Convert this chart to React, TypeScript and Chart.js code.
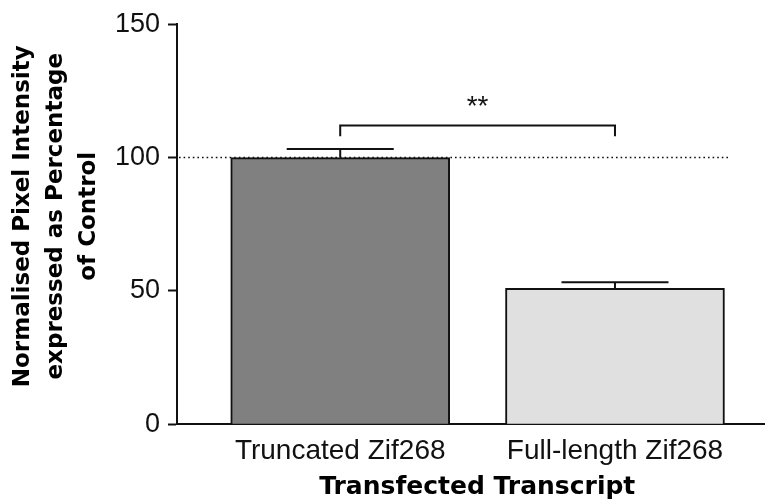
import { useEffect, useRef } from "react";
import { Chart, registerables } from "chart.js";

Chart.register(...registerables);

// Group labels and measured values (mean ± SEM, % of control)
const categories = ["Truncated Zif268", "Full-length Zif268"];
const meanValues = [100, 51];
const semValues = [3.2, 2.3];
const barColors = ["#808080", "#e0e0e0"];
const yTicks = [0, 50, 100, 150];
const yTitleLines = [
  "  Normalised Pixel Intensity",
  "  expressed as Percentage",
  "  of Control",
];
const xTitle = "\u2002Transfected Transcript";

// Control reference level and the significance bracket between the groups
const controlLevel = 100;
const controlLineEnd = 1.42; // x-units, just past the second bar
const bracketFrom = 0;
const bracketTo = 1;
const bracketLevel = 112;
const bracketLegLevel = 108;
const starLevel = 118.8;
const starLabel = "**";

const INK = "#111111";

const overlayPlugin = {
  id: "annotations",
  beforeDatasetsDraw(chart: any) {
    const { ctx, chartArea, scales } = chart;
    const y = scales.y.getPixelForValue(controlLevel);
    const xEnd = scales.x.getPixelForValue(controlLineEnd);
    ctx.save();
    ctx.strokeStyle = INK;
    ctx.lineWidth = 1.6;
    ctx.setLineDash([1.6, 3]);
    ctx.beginPath();
    ctx.moveTo(chartArea.left + 2, y);
    ctx.lineTo(xEnd, y);
    ctx.stroke();
    ctx.restore();
  },
  afterDatasetsDraw(chart: any) {
    const { ctx, scales } = chart;
    const xs = scales.x;
    const ys = scales.y;
    ctx.save();
    ctx.strokeStyle = INK;
    ctx.lineWidth = 2;
    ctx.setLineDash([]);
    // upper error bars
    meanValues.forEach((m, i) => {
      const x = xs.getPixelForValue(i);
      const yMean = ys.getPixelForValue(m);
      const yTop = ys.getPixelForValue(m + semValues[i]);
      const half = 53.5;
      ctx.beginPath();
      ctx.moveTo(x, yMean);
      ctx.lineTo(x, yTop);
      ctx.moveTo(x - half, yTop);
      ctx.lineTo(x + half, yTop);
      ctx.stroke();
    });
    // significance bracket
    const xa = xs.getPixelForValue(bracketFrom);
    const xb = xs.getPixelForValue(bracketTo);
    const yb = ys.getPixelForValue(bracketLevel);
    const yl = ys.getPixelForValue(bracketLegLevel);
    ctx.beginPath();
    ctx.moveTo(xa, yl);
    ctx.lineTo(xa, yb);
    ctx.lineTo(xb, yb);
    ctx.lineTo(xb, yl);
    ctx.stroke();
    ctx.fillStyle = INK;
    ctx.font = "28px 'Liberation Sans', Arial, sans-serif";
    ctx.textAlign = "center";
    ctx.textBaseline = "middle";
    ctx.fillText(
      starLabel,
      xs.getPixelForValue((bracketFrom + bracketTo) / 2),
      ys.getPixelForValue(starLevel)
    );
    ctx.restore();
  },
};

export default function App() {
  const canvasRef = useRef<HTMLCanvasElement | null>(null);

  useEffect(() => {
    if (!canvasRef.current) return;
    const chart = new Chart(canvasRef.current, {
      type: "bar",
      data: {
        datasets: [
          {
            data: categories.map((_, i) => ({ x: i, y: meanValues[i] })),
            backgroundColor: barColors,
            borderColor: INK,
            borderWidth: 2,
            barThickness: 219,
            borderSkipped: "bottom",
          },
        ],
      },
      options: {
        animation: false,
        responsive: false,
        maintainAspectRatio: false,
        events: [],
        layout: { padding: { left: 0, top: 24, right: 0, bottom: 0 } },
        plugins: {
          legend: { display: false },
          tooltip: { enabled: false },
        },
        scales: {
          x: {
            type: "linear",
            offset: false,
            min: -0.594,
            max: 1.546,
            afterBuildTicks: (s: any) => {
              s.ticks = categories.map((_, i) => ({ value: i }));
            },
            afterFit: (s: any) => {
              s.height = 76.7;
            },
            ticks: {
              callback: (v: any) => categories[v] ?? "",
              font: { family: "'Liberation Sans', Arial, sans-serif", size: 28 },
              color: INK,
              padding: 10,
              autoSkip: false,
              maxRotation: 0,
            },
            grid: {
              display: true,
              offset: false,
              drawOnChartArea: false,
              drawTicks: false,
            },
            border: { color: INK, width: 2 },
            title: {
              display: true,
              text: xTitle,
              color: "#000",
              font: {
                family: "'DejaVu Sans', Verdana, sans-serif",
                weight: "bold",
                size: 25,
                lineHeight: 1.12,
              },
              padding: 0,
            },
          },
          y: {
            min: 0,
            max: 150,
            afterBuildTicks: (s: any) => {
              s.ticks = yTicks.map((v) => ({ value: v }));
            },
            afterFit: (s: any) => {
              s.width = 177;
            },
            ticks: {
              font: { family: "'Liberation Sans', Arial, sans-serif", size: 27 },
              color: INK,
              padding: 8,
            },
            grid: {
              drawOnChartArea: false,
              tickLength: 9,
              tickWidth: 2,
              tickColor: INK,
            },
            border: { color: INK, width: 2 },
            title: {
              display: true,
              text: yTitleLines,
              color: "#000",
              font: {
                family: "'DejaVu Sans', Verdana, sans-serif",
                weight: "bold",
                size: 23,
                lineHeight: 1.43,
              },
              padding: { top: 7, bottom: 0 },
            },
          },
        },
      },
      plugins: [overlayPlugin],
    } as any);
    return () => chart.destroy();
  }, []);

  return (
    <div
      style={{
        position: "fixed",
        left: 0,
        top: 0,
        width: 765,
        height: 501,
        background: "#ffffff",
      }}
    >
      <canvas
        ref={canvasRef}
        width={765}
        height={501}
        style={{ display: "block", width: 765, height: 501 }}
      />
    </div>
  );
}
